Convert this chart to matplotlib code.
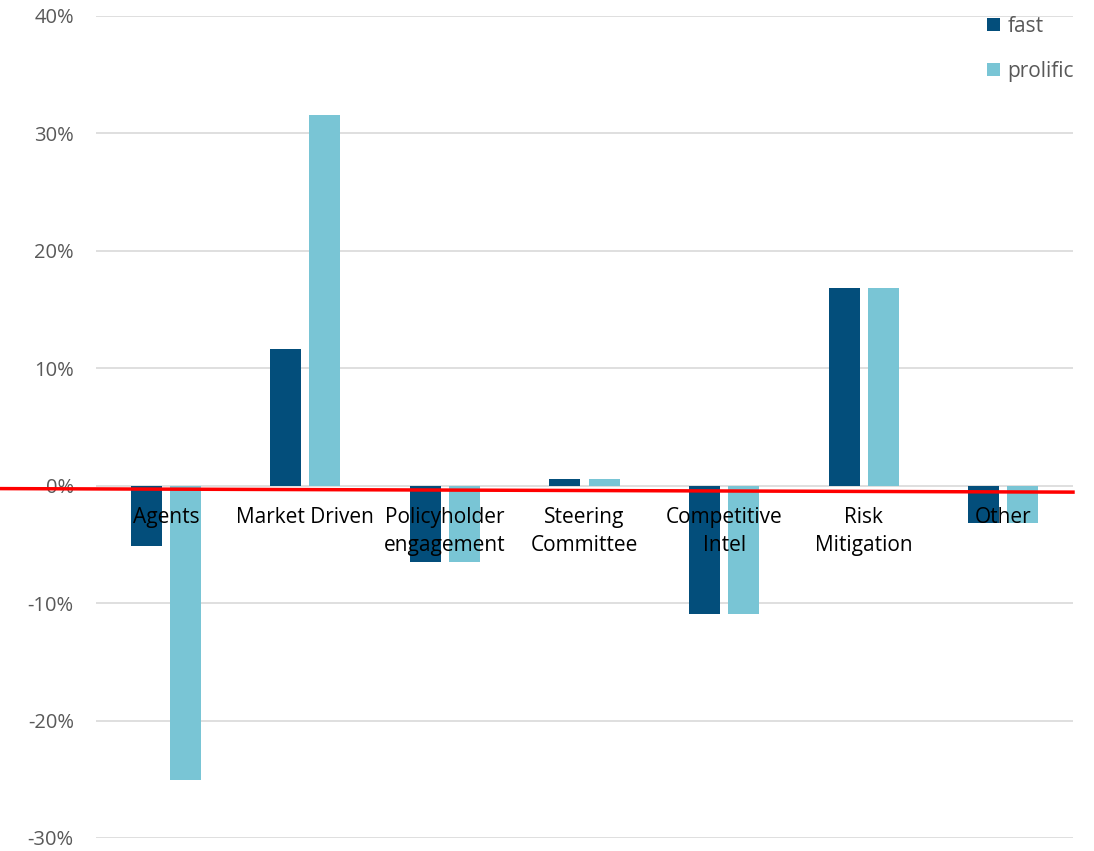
import matplotlib
matplotlib.use("Agg")
import matplotlib.pyplot as plt
import numpy as np
from matplotlib.ticker import FuncFormatter

categories = ["Agents", "Market Driven", "Policyholder\nengagement", "Steering\nCommittee",
              "Competitive\nIntel", "Risk\nMitigation", "Other"]
fast = [-5.1, 11.6, -6.5, 0.6, -10.9, 16.8, -3.2]
prolific = [-25.1, 31.6, -6.5, 0.6, -10.9, 16.8, -3.2]
series_names = ["fast", "prolific"]
red_line_values = [-0.25, -0.55]  # reference line from left edge to right end
yticks = [-30, -20, -10, 0, 10, 20, 30, 40]

plt.rcParams['font.family'] = ['Open Sans', 'DejaVu Sans']

fig = plt.figure(figsize=(10.94, 8.51), dpi=100)
ax = fig.add_axes([0.0878, 0.0153, 0.893, 0.966])

x = np.arange(len(categories))
w = 0.222
off = 0.14
c_fast = "#034e7b"
c_prol = "#79c5d5"
ax.bar(x - off, fast, width=w, color=c_fast, label=series_names[0], zorder=3)
ax.bar(x + off, prolific, width=w, color=c_prol, label=series_names[1], zorder=3)

ax.set_xlim(-0.5, len(categories) - 0.5)
ax.set_ylim(-30, 40)
ax.set_yticks(yticks)
ax.yaxis.set_major_formatter(FuncFormatter(lambda v, p: f"{int(v)}%"))
ax.tick_params(axis='y', length=0, labelsize=14.5, labelcolor="#595959", pad=16)
ax.set_xticks([])
ax.grid(axis='y', color="#d9d9d9", linewidth=1.2, zorder=0)
for s in ax.spines.values():
    s.set_visible(False)

# category labels just below zero line
for i, c in enumerate(categories):
    ax.annotate(c, xy=(i, 0), xytext=(0, -15.5), textcoords='offset points',
                ha='center', va='top', fontsize=15, color="#000000",
                linespacing=1.45, zorder=5)

# red reference line from left figure edge to right end of plot
x_left = ax.transData.inverted().transform(fig.transFigure.transform((0, 0)))[0]
ax.plot([x_left, len(categories) - 0.5], red_line_values, color="#ff0000",
        linewidth=2.5, clip_on=False, zorder=4)

leg = ax.legend(loc='upper right', bbox_to_anchor=(1.02, 1.023), frameon=False,
                fontsize=15, handlelength=0.62, handleheight=0.62, handletextpad=0.35,
                labelspacing=1.15)
for t in leg.get_texts():
    t.set_color("#595959")

fig.savefig("out.png", dpi=100)
